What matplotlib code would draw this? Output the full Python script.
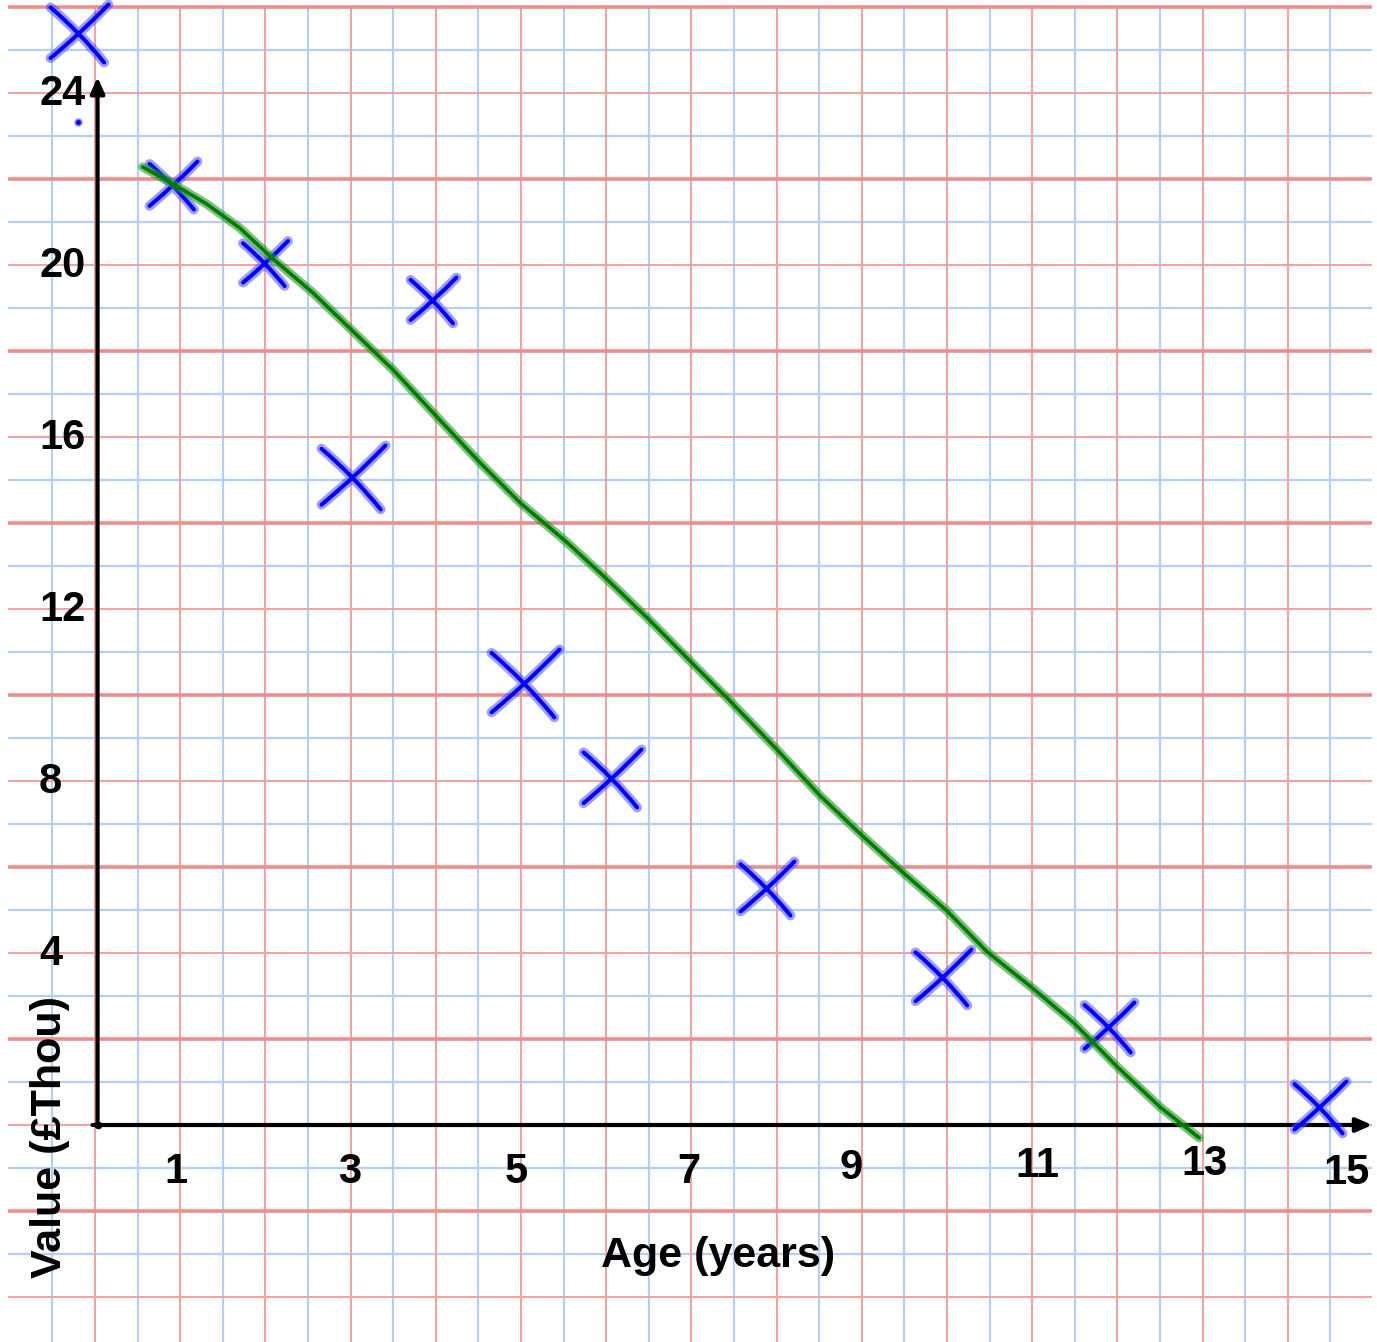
import numpy as np
import matplotlib
matplotlib.use('Agg')
import matplotlib.pyplot as plt
from matplotlib.path import Path
from matplotlib.markers import MarkerStyle

# ---------------- data ----------------
age = [0.92, 2.00, 3.03, 3.97, 5.05, 6.07, 7.89, 9.95, 11.90, 14.38]
value = [21.86, 20.05, 15.07, 19.19, 10.28, 8.07, 5.51, 3.44, 2.28, 0.42]
stray_cross_x = [-0.19]
stray_cross_y = [25.40]
stray_dot_x = [-0.20]
stray_dot_y = [23.33]

trend_x = [0.56, 0.92, 1.31, 1.70, 2.09, 2.56, 2.99, 3.50, 3.97, 4.52, 4.99,
           5.54, 6.01, 6.51, 7.08, 7.42, 8.00, 8.51, 9.01, 9.45, 10.00, 10.47,
           11.00, 11.49, 12.00, 12.50, 12.96]
trend_y = [22.28, 21.88, 21.42, 20.86, 20.14, 19.35, 18.53, 17.56, 16.56, 15.40,
           14.47, 13.55, 12.69, 11.74, 10.60, 9.93, 8.74, 7.66, 6.72, 5.93, 4.98,
           4.03, 3.19, 2.37, 1.35, 0.42, -0.30]

x_tick_values = [1, 3, 5, 7, 9, 11, 13, 15]
y_tick_values = [4, 8, 12, 16, 20, 24]
x_label = 'Age (years)'
y_label = 'Value (£Thou)'

# ---------------- style ----------------
PX_X = 85.2   # pixels per x unit
PX_Y = 43.0   # pixels per y unit
cross_px = [48, 45, 64, 46, 68, 58, 54, 56, 50, 52]
stray_cross_px = 58
x_lab_dx_px = [-4, -1, -5, -3, -11, 5, 2, -26]
x_lab_base_px = [1183, 1183, 1183, 1183, 1179, 1177, 1175, 1184]

FONT = 'Liberation Sans'
GRID_BLUE = '#b3cff3'
GRID_RED = '#f3a3a3'
GRID_RED_THICK = '#f08c8c'
BLUE = '#0000ff'
GREEN = '#007d00'

fig = plt.figure(figsize=(13.77, 13.42), dpi=100)
fig.patch.set_facecolor('white')
ax = fig.add_axes([0, 0, 1, 1])
ax.set_xlim(-95 / PX_X, (1377 - 95) / PX_X)
ax.set_ylim(-(1342 - 1125) / PX_Y, 1125 / PX_Y)
ax.axis('off')

# ---------------- graph paper ----------------
gx0, gx1 = -1.02, 14.99
gy0, gy1 = -5.1, 26.0
for xv in np.arange(-0.5, 14.51, 0.5):
    if abs(xv - round(xv)) < 1e-6:
        ax.vlines(xv, gy0, gy1, color=GRID_RED, lw=1.5, zorder=1)
    else:
        ax.vlines(xv, gy0, gy1, color=GRID_BLUE, lw=1.6, zorder=0.9)
for yv in range(-4, 27):
    if yv % 2 != 0:
        ax.hlines(yv, gx0, gx1, color=GRID_BLUE, lw=1.6, zorder=0.9)
    elif yv % 4 == 2:
        ax.hlines(yv, gx0, gx1, color=GRID_RED_THICK, lw=2.6, zorder=1.1)
    else:
        ax.hlines(yv, gx0, gx1, color=GRID_RED, lw=1.5, zorder=1)

# ---------------- axes with arrows ----------------
ax.annotate('', xy=(0.03, 24.37), xytext=(0.03, 0),
            arrowprops=dict(arrowstyle='-|>,head_length=0.95,head_width=0.42',
                            lw=3.0, color='black', shrinkA=0, shrinkB=0),
            zorder=3)
ax.annotate('', xy=(14.99, 0), xytext=(-0.03, 0),
            arrowprops=dict(arrowstyle='-|>,head_length=0.95,head_width=0.42',
                            lw=3.0, color='black', shrinkA=0, shrinkB=0),
            zorder=3)
ax.plot([0.03], [0], marker='o', ms=4.5, color='black', zorder=3)

# ---------------- tick labels ----------------
for v in y_tick_values:
    ax.text(-0.657, v - 0.28, str(v), fontsize=30, fontweight='bold',
            family=FONT, ha='left', va='baseline', zorder=4)
for v, dx, by in zip(x_tick_values, x_lab_dx_px, x_lab_base_px):
    ax.text(v + dx / PX_X, (1125 - by) / PX_Y, str(v), fontsize=30,
            fontweight='bold', family=FONT, ha='center', va='baseline', zorder=4)

ax.text(7.31, -3.30, x_label, fontsize=31, fontweight='bold', family=FONT,
        ha='center', va='baseline', zorder=4)
ax.text(-0.53, -0.28, y_label, fontsize=31, fontweight='bold', family=FONT,
        ha='center', va='center', rotation=90, zorder=4)

# ---------------- hand-drawn crosses ----------------
cross_path = Path([(-1.0, -0.85), (0.05, 0.02), (1.0, 1.0),
                   (-1.0, 0.9), (0.0, 0.05), (0.85, -1.0)],
                  [Path.MOVETO, Path.CURVE3, Path.CURVE3,
                   Path.MOVETO, Path.CURVE3, Path.CURVE3])
cross = MarkerStyle(cross_path, capstyle='round', joinstyle='round')


def draw_cross(x, y, size_px):
    ms = size_px * 0.72
    ax.plot([x], [y], linestyle='none', marker=cross, ms=ms,
            markeredgecolor=(0.3, 0.3, 1.0, 0.55), markeredgewidth=7.0,
            markerfacecolor='none', zorder=5)
    ax.plot([x], [y], linestyle='none', marker=cross, ms=ms,
            markeredgecolor=BLUE, markeredgewidth=2.9,
            markerfacecolor='none', zorder=5.1)


for x, y, s in zip(age, value, cross_px):
    draw_cross(x, y, s)
for x, y in zip(stray_cross_x, stray_cross_y):
    draw_cross(x, y, stray_cross_px)

ax.plot(stray_dot_x, stray_dot_y, linestyle='none', marker='o', ms=5,
        color=(0.3, 0.3, 1.0, 0.55), zorder=5)
ax.plot(stray_dot_x, stray_dot_y, linestyle='none', marker='o', ms=2.5,
        color=BLUE, zorder=5.1)

# ---------------- trend line ----------------
ax.plot(trend_x, trend_y, color=(0.15, 0.6, 0.15, 0.6), lw=6.5,
        solid_capstyle='round', solid_joinstyle='round', zorder=6)
ax.plot(trend_x, trend_y, color=GREEN, lw=2.6,
        solid_capstyle='round', solid_joinstyle='round', zorder=6.1)

fig.savefig('out.png', dpi=100, facecolor='white')
